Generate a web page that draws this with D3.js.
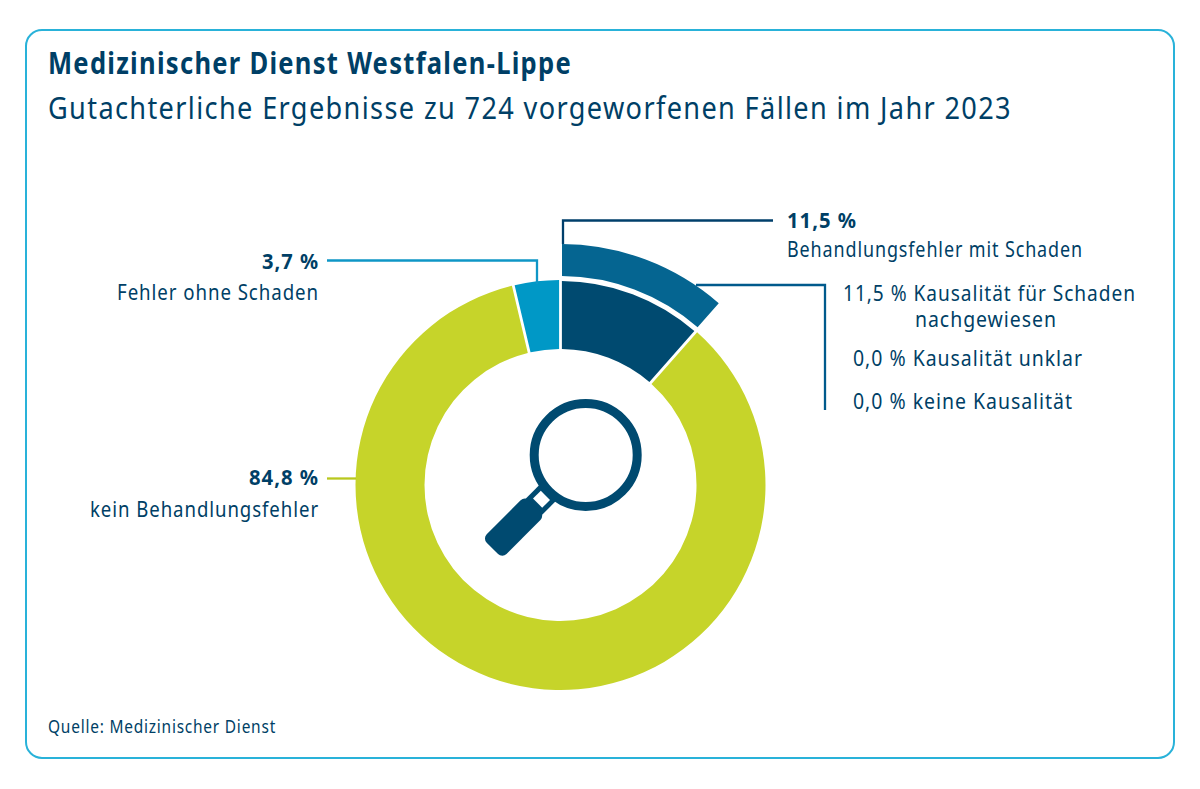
<!DOCTYPE html>
<html>
<head>
<meta charset="utf-8">
<script src="https://cdn.jsdelivr.net/npm/d3@7"></script>
<style>
  html, body { margin: 0; padding: 0; background: #fff; }
  text { font-family: "Noto Sans", sans-serif; fill: #003f66; letter-spacing: 0.05em; }
</style>
</head>
<body>
<svg id="chart" width="1200" height="789"></svg>
<script>
var titleText = "Medizinischer Dienst Westfalen-Lippe";
var subtitleText = "Gutachterliche Ergebnisse zu 724 vorgeworfenen Fällen im Jahr 2023";
var sourceText = "Quelle: Medizinischer Dienst";

// donut, clockwise from 12 o'clock
var categories = ["Behandlungsfehler mit Schaden", "kein Behandlungsfehler", "Fehler ohne Schaden"];
var shares = [11.5, 84.8, 3.7];
var sliceColors = ["#004a70", "#c6d42a", "#0098c6"];

var detailNames = ["Kausalität für Schaden", "Kausalität unklar", "keine Kausalität"];
var detailShares = [11.5, 0.0, 0.0];

function pct(v) { return v.toFixed(1).replace(".", ",") + " %"; }

var svg = d3.select("#chart");
var cx = 560.5, cy = 485;

// frame
svg.append("rect").attr("x", 26).attr("y", 30).attr("width", 1148).attr("height", 728)
  .attr("rx", 16).attr("fill", "#fff").attr("stroke", "#29b2d9").attr("stroke-width", 2);

function addText(str, x, y, size, len, opts) {
  opts = opts || {};
  var t = svg.append("text").attr("x", x).attr("y", y).text(str)
    .attr("font-size", size)
    .attr("font-weight", opts.bold ? 700 : 400)
    .attr("text-anchor", opts.anchor || "start");
  t.attr("textLength", len).attr("lengthAdjust", "spacingAndGlyphs");
  return t;
}

addText(titleText, 48, 74, 31, 524, { bold: true });
addText(subtitleText, 48, 119, 31, 964);
addText(sourceText, 48, 733, 17.5, 228);

// donut
var pie = d3.pie().sort(null).value(function(d) { return d; });
var arcs = pie(shares);
var ring = d3.arc().innerRadius(136)
  .outerRadius(function(d) { return d.index === 0 ? 204 : 205; })
  .padAngle(2.8 / 170).padRadius(170);

svg.append("g").attr("transform", "translate(" + cx + "," + cy + ")")
  .selectAll("path").data(arcs).enter().append("path")
  .attr("d", ring)
  .attr("fill", function(d, i) { return sliceColors[i]; });

// outer band of the error slice
var band = d3.arc().innerRadius(209).outerRadius(241).padAngle(3 / 225).padRadius(225);
svg.append("path").attr("transform", "translate(" + cx + "," + cy + ")")
  .attr("d", band({ startAngle: arcs[0].startAngle, endAngle: arcs[0].endAngle }))
  .attr("fill", "#056591");

// connectors
function connector(pts, color) {
  svg.append("path").attr("d", d3.line()(pts)).attr("fill", "none")
    .attr("stroke", color).attr("stroke-width", 2.3);
}
connector([[563, 244], [563, 220.5], [773, 220.5]], "#003f6b");
connector([[696, 285], [825, 285], [825, 410]], "#005a8c");
connector([[327, 260.5], [537, 260.5], [537, 284]], "#0f96c6");
connector([[327, 478.5], [356, 478.5]], "#b9c81e");

// labels
addText(pct(shares[0]), 787, 228, 21, 70, { bold: true });
addText(categories[0], 787, 257, 21, 296);
addText(pct(shares[2]), 319, 269, 21, 57, { bold: true, anchor: "end" });
addText(categories[2], 319, 300, 21, 202, { anchor: "end" });
addText(pct(shares[1]), 319, 485, 21, 70, { bold: true, anchor: "end" });
addText(categories[1], 319, 517, 21, 229, { anchor: "end" });

addText(pct(detailShares[0]) + " " + detailNames[0], 843, 301, 21, 293);
addText("nachgewiesen", 915, 327, 21, 142);
addText(pct(detailShares[1]) + " " + detailNames[1], 853, 366, 21, 230);
addText(pct(detailShares[2]) + " " + detailNames[2], 853, 409, 21, 220);

// magnifier icon
var iconColor = "#004a70";
var icon = svg.append("g").attr("transform", "translate(585.7,455)");
icon.append("circle").attr("r", 51.5).attr("fill", "none")
  .attr("stroke", iconColor).attr("stroke-width", 9);
var grip = icon.append("g").attr("transform", "rotate(45)");
grip.append("rect").attr("x", -11.5).attr("y", 53).attr("width", 23).attr("height", 24).attr("fill", iconColor);
grip.append("rect").attr("x", -6.5).attr("y", 57).attr("width", 13).attr("height", 11).attr("fill", "#fff");
grip.append("rect").attr("x", -14).attr("y", 72).attr("width", 28).attr("height", 60).attr("rx", 6).attr("fill", iconColor);
</script>
</body>
</html>
